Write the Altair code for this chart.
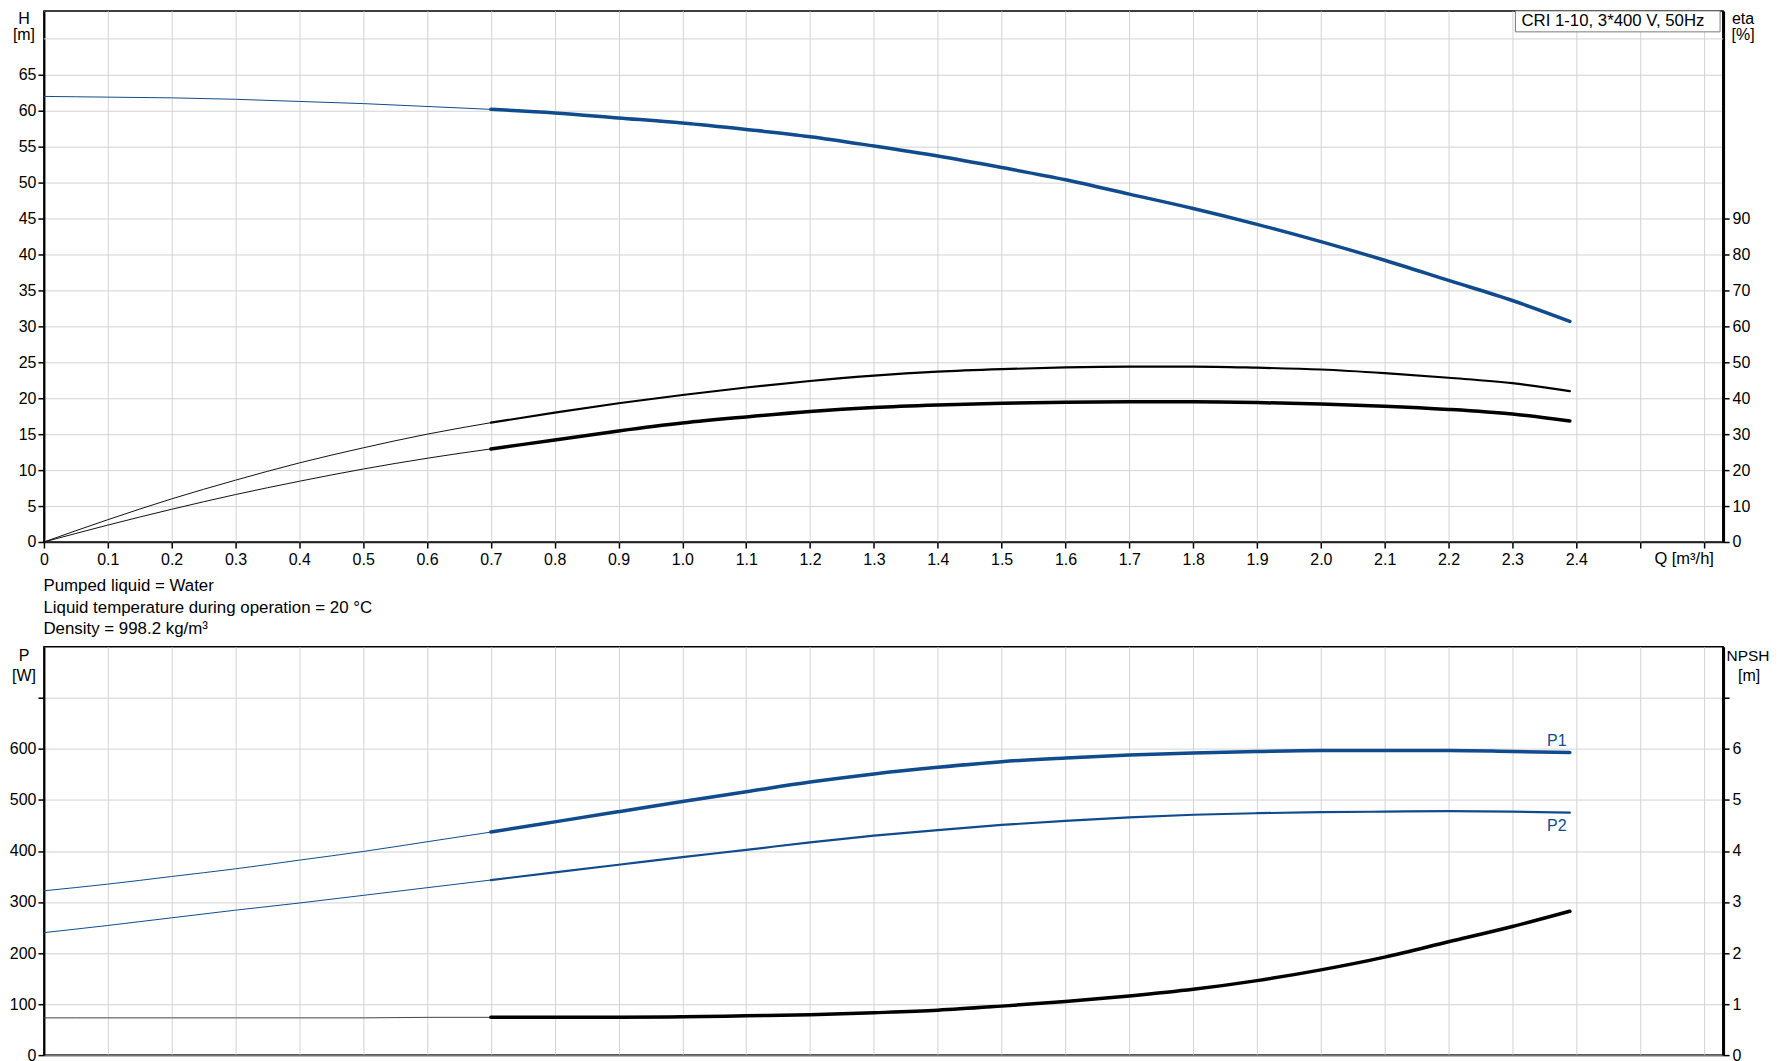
import altair as alt
import pandas as pd

FONT = "Liberation Sans"
BLUE = "#0f4b8d"
GRID = "#d3d3d3"

# ---------------- data ----------------
Q_LOW = [0.0, 0.1, 0.2, 0.3, 0.4, 0.5, 0.6, 0.7]
Q_HIGH = [0.7, 0.8, 0.9, 1.0, 1.1, 1.2, 1.3, 1.4, 1.5, 1.6, 1.7, 1.8, 1.9, 2.0, 2.1, 2.2, 2.3, 2.39]

H_LOW = [62.0, 61.9, 61.8, 61.6, 61.3, 61.0, 60.6, 60.2]
H_HIGH = [60.2, 59.7, 59.0, 58.3, 57.4, 56.4, 55.1, 53.7, 52.1, 50.4, 48.4, 46.4, 44.2, 41.8, 39.2, 36.4, 33.6, 30.7]

ETA_PUMP_LOW = [0.0, 6.2, 12.0, 17.2, 22.0, 26.2, 30.0, 33.2]
ETA_PUMP_HIGH = [33.2, 36.0, 38.6, 40.9, 43.0, 44.8, 46.3, 47.4, 48.1, 48.6, 48.8, 48.8, 48.5, 48.0, 47.0, 45.7, 44.2, 42.0]

ETA_TOT_LOW = [0.0, 4.7, 9.1, 13.2, 16.9, 20.3, 23.3, 25.9]
ETA_TOT_HIGH = [25.9, 28.4, 30.9, 33.1, 34.8, 36.3, 37.4, 38.1, 38.6, 38.9, 39.0, 39.0, 38.8, 38.4, 37.8, 36.9, 35.6, 33.7]

P1_LOW = [322, 335, 350, 365, 382, 399, 418, 437]
P1_HIGH = [437, 457, 477, 497, 516, 535, 551, 564, 575, 582, 588, 592, 595, 597, 597, 597, 595, 593]

P2_LOW = [240, 254, 269, 284, 298, 313, 328, 343]
P2_HIGH = [343, 358, 373, 388, 402, 417, 430, 441, 451, 459, 466, 471, 474, 476, 477, 478, 477, 475]

NPSH_LOW = [0.73, 0.73, 0.73, 0.73, 0.73, 0.73, 0.74, 0.74]
NPSH_HIGH = [0.74, 0.74, 0.74, 0.75, 0.77, 0.79, 0.83, 0.88, 0.96, 1.05, 1.16, 1.29, 1.46, 1.67, 1.92, 2.22, 2.52, 2.82]

X_TICKS = [0.0, 0.1, 0.2, 0.3, 0.4, 0.5, 0.6, 0.7, 0.8, 0.9, 1.0, 1.1, 1.2, 1.3,
           1.4, 1.5, 1.6, 1.7, 1.8, 1.9, 2.0, 2.1, 2.2, 2.3, 2.4, 2.5, 2.6]
H_TICKS = [0, 5, 10, 15, 20, 25, 30, 35, 40, 45, 50, 55, 60, 65]
H_GRID_EXTRA = [70]
ETA_TICKS = [0, 10, 20, 30, 40, 50, 60, 70, 80, 90]
P_TICKS = [0, 100, 200, 300, 400, 500, 600, 700]
NPSH_TICKS = [0, 1, 2, 3, 4, 5, 6, 7]

X_DOMAIN = [0, 2.63]
H_DOMAIN = [0, 73.9]
ETA_DOMAIN = [0, 147.8]
P_DOMAIN = [0, 800]
NPSH_DOMAIN = [0, 8]

INFO_LINES = ["Pumped liquid = Water",
              "Liquid temperature during operation = 20 \u00b0C",
              "Density = 998.2 kg/m\u00b3"]

W = 1682
H_TOP = 532
H_BOT = 409


def frame(q, v):
    return pd.DataFrame({"q": q, "v": v})


def line(q, v, x, y, color, width):
    return alt.Chart(frame(q, v)).mark_line(
        color=color, strokeWidth=width, interpolate="monotone", strokeCap="round"
    ).encode(x=x, y=y)


def note(text, x, y, align="center", size=16, color="black"):
    return alt.Chart(pd.DataFrame({"t": [text]})).mark_text(
        align=align, baseline="middle", font=FONT, fontSize=size, color=color
    ).encode(x=alt.value(x), y=alt.value(y), text="t:N")


label_style = dict(labelFont=FONT, labelFontSize=16, labelColor="black",
                   tickColor="black", tickWidth=1.5, title=None, labelOverlap=False)

x_scale = alt.Scale(domain=X_DOMAIN, nice=False, zero=False)

x_top = alt.X("q:Q", scale=x_scale, axis=alt.Axis(
    values=X_TICKS, grid=True, gridColor=GRID, gridWidth=1,
    domainColor="#222222", domainWidth=1.5, labelFlush=False,
    tickSize=6, labelPadding=4,
    labelExpr="datum.value > 2.45 ? '' : (datum.value == 0 ? '0' : format(datum.value, '.1f'))",
    **label_style))

x_bot = alt.X("q:Q", scale=x_scale, axis=alt.Axis(
    values=X_TICKS, grid=True, gridColor=GRID, gridWidth=1,
    labels=False, ticks=False, domainColor="#777777", domainWidth=2, title=None))

y_h = alt.Y("v:Q", scale=alt.Scale(domain=H_DOMAIN, nice=False), axis=alt.Axis(
    orient="left", values=H_TICKS, grid=True, gridColor=GRID, gridWidth=1,
    domainColor="black", domainWidth=2, tickSize=6, labelPadding=2, **label_style))

y_eta = alt.Y("v:Q", scale=alt.Scale(domain=ETA_DOMAIN, nice=False), axis=alt.Axis(
    orient="right", values=ETA_TICKS, grid=False, tickSize=6, labelPadding=3,
    domainColor="black", domainWidth=3, **label_style))

y_p = alt.Y("v:Q", scale=alt.Scale(domain=P_DOMAIN, nice=False), axis=alt.Axis(
    orient="left", values=P_TICKS, grid=True, gridColor=GRID, gridWidth=1,
    domainColor="black", domainWidth=2, tickSize=6, labelPadding=2,
    labelExpr="datum.value > 650 ? '' : datum.label", **label_style))

y_npsh = alt.Y("v:Q", scale=alt.Scale(domain=NPSH_DOMAIN, nice=False), axis=alt.Axis(
    orient="right", values=NPSH_TICKS, grid=False, tickSize=6, labelPadding=3,
    domainColor="black", domainWidth=3,
    labelExpr="datum.value > 6.5 ? '' : datum.label", **label_style))

# ---------------- top panel: H and eta ----------------
h_group = alt.layer(
    alt.Chart(pd.DataFrame({"v": H_GRID_EXTRA})).mark_rule(color=GRID, strokeWidth=1).encode(y=y_h),
    line(Q_LOW, H_LOW, x_top, y_h, BLUE, 1.0),
    line(Q_HIGH, H_HIGH, x_top, y_h, BLUE, 3.5),
)

eta_group = alt.layer(
    line(Q_LOW, ETA_PUMP_LOW, x_top, y_eta, "#111111", 1.0),
    line(Q_HIGH, ETA_PUMP_HIGH, x_top, y_eta, "black", 2.2),
    line(Q_LOW, ETA_TOT_LOW, x_top, y_eta, "#111111", 1.0),
    line(Q_HIGH, ETA_TOT_HIGH, x_top, y_eta, "black", 3.5),
)

legend_box = alt.Chart(pd.DataFrame({"a": [0]})).mark_rect(
    fill="white", stroke="#7a7a7a", strokeWidth=1
).encode(x=alt.value(1474), x2=alt.value(1679), y=alt.value(0), y2=alt.value(21))

top = alt.layer(
    h_group,
    eta_group,
    legend_box,
    note("CRI 1-10, 3*400 V, 50Hz", 1480, 10.5, align="left", size=16.8),
    note("H", -20, 8),
    note("[m]", -20, 24),
    note("eta", 1702, 8),
    note("[%]", 1702, 24),
    note("Q [m\u00b3/h]", 1643, 549, size=16.5),
    note(INFO_LINES[0], -0.5, 576, align="left", size=16.9),
    note(INFO_LINES[1], -0.5, 598, align="left", size=16.9),
    note(INFO_LINES[2], -0.5, 619.5, align="left", size=16.9),
).resolve_scale(y="independent").properties(width=W, height=H_TOP)

# ---------------- bottom panel: P1, P2 and NPSH ----------------
p_group = alt.layer(
    line(Q_LOW, P1_LOW, x_bot, y_p, BLUE, 1.0),
    line(Q_HIGH, P1_HIGH, x_bot, y_p, BLUE, 3.5),
    line(Q_LOW, P2_LOW, x_bot, y_p, BLUE, 1.0),
    line(Q_HIGH, P2_HIGH, x_bot, y_p, BLUE, 2.2),
    alt.Chart(frame([Q_HIGH[-1]], [P1_HIGH[-1]])).mark_text(
        text="P1", dx=-13, dy=-11, font=FONT, fontSize=16, color=BLUE
    ).encode(x=x_bot, y=y_p),
    alt.Chart(frame([Q_HIGH[-1]], [P2_HIGH[-1]])).mark_text(
        text="P2", dx=-13, dy=13, font=FONT, fontSize=16, color=BLUE
    ).encode(x=x_bot, y=y_p),
)

npsh_group = alt.layer(
    line(Q_LOW, NPSH_LOW, x_bot, y_npsh, "#444444", 1.0),
    line(Q_HIGH, NPSH_HIGH, x_bot, y_npsh, "black", 3.5),
)

bottom = alt.layer(
    p_group,
    npsh_group,
    note("P", -20, 9),
    note("[W]", -20, 29),
    note("NPSH", 1707, 9, size=15.5),
    note("[m]", 1708, 29),
).resolve_scale(y="independent").properties(width=W, height=H_BOT)

chart = alt.vconcat(top, bottom, spacing=7).properties(padding=0).configure_view(
    stroke="black", strokeWidth=1.5
)

chart.save("out.html", embed_options={"renderer": "svg", "actions": False})
